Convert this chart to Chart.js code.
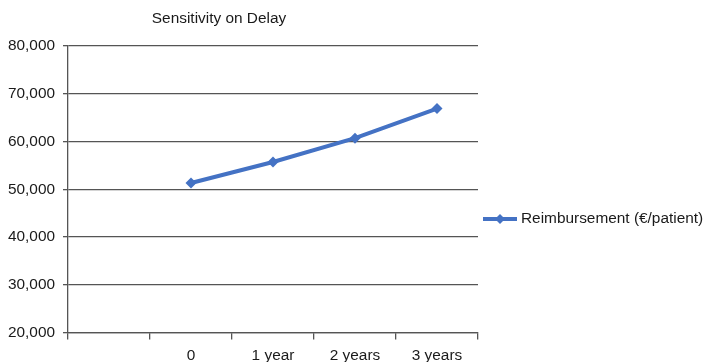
<!DOCTYPE html>
<html>
<head>
<meta charset="utf-8">
<script src="https://cdn.jsdelivr.net/npm/chart.js@4/dist/chart.umd.min.js"></script>
<style>
  html, body { margin: 0; padding: 0; background: #fff; }
  #wrap { width: 705px; height: 362px; position: relative; }
</style>
</head>
<body>
<div id="wrap"><canvas id="c" width="705" height="362"></canvas></div>
<script>
// Delay scenarios (first slot left blank as on the axis)
const categories = ['', '0', '1 year', '2 years', '3 years'];
const reimbursement = [null, 51300, 55700, 60700, 66900];
const seriesName = 'Reimbursement (€/patient)';
const chartTitle = 'Sensitivity on Delay';
const yTicks = [20000, 30000, 40000, 50000, 60000, 70000, 80000];

const FONT = '"Liberation Sans", Arial, Helvetica, sans-serif';
const FS = 15.4;
const TEXT = '#1a1a1a';
const BLUE = '#4472C4';

// Title and right-hand legend are painted directly onto the canvas
const extras = {
  id: 'extras',
  afterDraw(chart) {
    const ctx = chart.ctx;
    ctx.save();
    ctx.fillStyle = TEXT;
    ctx.font = FS + 'px ' + FONT;
    ctx.textAlign = 'center';
    ctx.textBaseline = 'middle';
    ctx.fillText(chartTitle, 219, 19);

    const ds = chart.data.datasets[0];
    const y = 219;
    ctx.strokeStyle = ds.borderColor;
    ctx.lineWidth = 4;
    ctx.beginPath();
    ctx.moveTo(483, y);
    ctx.lineTo(517, y);
    ctx.stroke();
    ctx.fillStyle = ds.borderColor;
    ctx.beginPath();
    const r = 5;
    ctx.moveTo(500, y - r);
    ctx.lineTo(500 + r, y);
    ctx.lineTo(500, y + r);
    ctx.lineTo(500 - r, y);
    ctx.closePath();
    ctx.fill();
    ctx.fillStyle = TEXT;
    ctx.textAlign = 'left';
    ctx.fillText(ds.label, 521, y);
    ctx.restore();
  }
};

new Chart(document.getElementById('c'), {
  type: 'line',
  data: {
    labels: categories,
    datasets: [{
      label: seriesName,
      data: reimbursement,
      borderColor: BLUE,
      backgroundColor: BLUE,
      borderWidth: 4,
      pointStyle: 'rectRot',
      pointRadius: 5.5,
      pointHoverRadius: 5.5,
      pointBorderWidth: 0,
      tension: 0,
      spanGaps: false
    }]
  },
  options: {
    responsive: false,
    animation: false,
    devicePixelRatio: 1,
    layout: { padding: { top: 46, right: 227, bottom: 0, left: 0 } },
    plugins: {
      legend: { display: false },
      title: { display: false },
      tooltip: { enabled: false }
    },
    scales: {
      x: {
        type: 'category',
        offset: true,
        afterFit(scale) { scale.height = 29.5; },
        grid: {
          display: true,
          offset: true,
          drawOnChartArea: false,
          drawTicks: true,
          tickLength: 7,
          color: '#555',
          lineWidth: 1.3
        },
        border: { display: true, color: '#555', width: 1.3 },
        ticks: {
          color: TEXT,
          font: { family: FONT, size: FS },
          padding: 7,
          maxRotation: 0,
          autoSkip: false
        }
      },
      y: {
        min: yTicks[0],
        max: yTicks[yTicks.length - 1],
        afterFit(scale) { scale.width = 68; },
        afterBuildTicks(scale) { scale.ticks = yTicks.map(v => ({ value: v })); },
        grid: {
          color: '#555',
          lineWidth: 1.3,
          drawTicks: true,
          tickLength: 5
        },
        border: { display: true, color: '#555', width: 1.3 },
        ticks: {
          color: TEXT,
          font: { family: FONT, size: FS },
          padding: 8,
          callback: v => v.toLocaleString('en-US')
        }
      }
    }
  },
  plugins: [extras]
});
</script>
</body>
</html>
